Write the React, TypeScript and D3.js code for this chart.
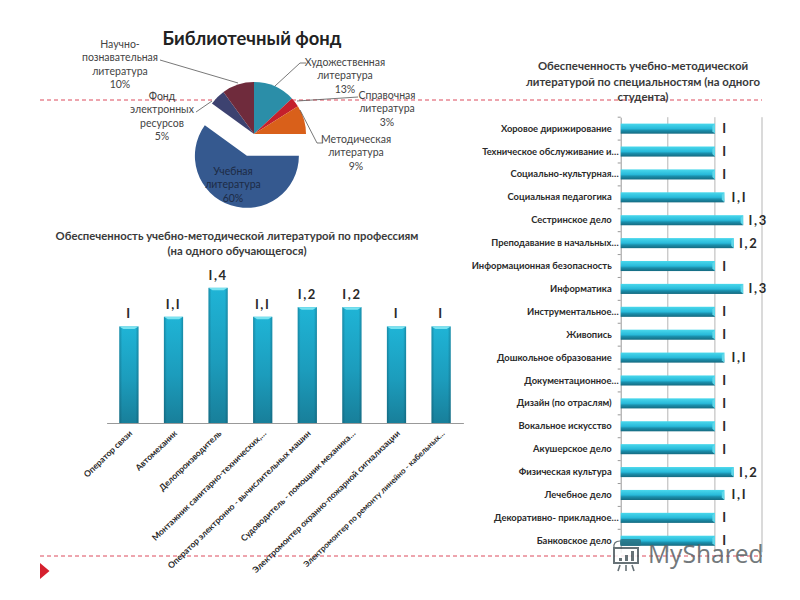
import React, { useEffect, useRef } from 'react';
import * as d3 from 'd3';

// pie
const fundNames = [
  ['Художественная', 'литература'],
  ['Справочная', 'литература'],
  ['Методическая', 'литература'],
  ['Учебная', 'литература'],
  ['Фонд', 'электронных', 'ресурсов'],
  ['Научно-', 'познавательная', 'литература'],
];
const fundShares = [13, 3, 9, 60, 5, 10];
const fundColors = ['#2b8ea8', '#c4202c', '#d9601a', '#35598f', '#3d4270', '#6f2b3c'];

// vertical bars
const professions = [
  'Оператор связи',
  'Автомеханик',
  'Делопроизводитель',
  'Монтажник санитарно-технических,…',
  'Оператор электронно - вычислительных машин',
  'Судоводитель - помощник механика…',
  'Электромонтер охранно-пожарной сигнализации',
  'Электромонтер по ремонту линейно - кабельных…',
];
const professionValues = [1, 1.1, 1.4, 1.1, 1.2, 1.2, 1, 1];

// horizontal bars
const specialties = [
  'Хоровое дирижирование',
  'Техническое обслуживание и…',
  'Социально-культурная…',
  'Социальная педагогика',
  'Сестринское дело',
  'Преподавание в начальных…',
  'Информационная безопасность',
  'Информатика',
  'Инструментальное…',
  'Живопись',
  'Дошкольное образование',
  'Документационное…',
  'Дизайн (по отраслям)',
  'Вокальное искусство',
  'Акушерское дело',
  'Физическая культура',
  'Лечебное дело',
  'Декоративно- прикладное…',
  'Банковское дело',
];
const specialtyValues = [1, 1, 1, 1.1, 1.3, 1.2, 1, 1.3, 1, 1, 1.1, 1, 1, 1, 1, 1.2, 1.1, 1, 1];
const specialtyTicks = [0, 0.5, 1, 1.5];

const FONT = 'Lato, sans-serif';

// the slide's font draws the digit one as a plain bar
const valueLabel = (v: number) => String(v).replace('.', ',').replace(/1/g, 'I');

export default function App() {
  const svgRef = useRef<SVGSVGElement>(null);

  useEffect(() => {
    if (!svgRef.current) return;
    const svg = d3.select(svgRef.current);
    svg.selectAll('*').remove();
    svg.attr('font-family', FONT);

    const defs = svg.append('defs');
    const gradient = (id: string, horizontal: boolean, stops: [number, string, number][]) => {
      const g = defs.append('linearGradient').attr('id', id)
        .attr('x1', 0).attr('y1', 0)
        .attr('x2', horizontal ? 1 : 0).attr('y2', horizontal ? 0 : 1);
      stops.forEach(([o, c, a]) => g.append('stop').attr('offset', o).attr('stop-color', c).attr('stop-opacity', a));
    };
    gradient('colBody', false, [[0, '#1fb4d6', 1], [0.55, '#1c9cbc', 1], [1, '#187f9a', 1]]);
    gradient('colEdge', true, [[0, '#0b3f50', 0.35], [0.15, '#0b3f50', 0], [0.85, '#0b3f50', 0], [1, '#0b3f50', 0.35]]);
    gradient('rowBody', false, [[0, '#4ad8ec', 1], [0.5, '#28bada', 1], [0.68, '#1a8fac', 1], [1, '#156a80', 1]]);

    // dashed guides and marker of the slide
    const guides = svg.append('g').attr('stroke', '#d8354a').attr('stroke-width', 0.9).attr('stroke-dasharray', '4 3');
    guides.append('line').attr('x1', 40).attr('x2', 762).attr('y1', 100).attr('y2', 100);
    guides.append('line').attr('x1', 40).attr('x2', 762).attr('y1', 556).attr('y2', 556);
    svg.append('path').attr('d', 'M40,563L49.5,571L40,579Z').attr('fill', '#d5202e');

    // ---- pie
    svg.append('text').attr('x', 252).attr('y', 45).attr('text-anchor', 'middle')
      .attr('font-size', 18.4).attr('font-weight', 700).attr('fill', '#222').text('Библиотечный фонд');

    const pieX = 254, pieY = 134, pieR = 52;
    const arcs = d3.pie<number>().sort(null)(fundShares);
    const arc = d3.arc<d3.PieArcDatum<number>>().innerRadius(0).outerRadius(pieR);
    const pie = svg.append('g').attr('transform', `translate(${pieX},${pieY})`);
    pie.selectAll('path').data(arcs).join('path')
      .attr('d', arc)
      .attr('fill', (_, i) => fundColors[i])
      .attr('transform', (d, i) => {
        if (i !== 3) return null;
        const mid = (d.startAngle + d.endAngle) / 2;
        return `translate(${Math.sin(mid) * 23},${-Math.cos(mid) * 23})`;
      });

    const leaders = ['M275,86L300,63L306,63', 'M297,101L358,97', 'M300,110L317,143L323,143', 'M196,112L212,101', 'M160,60L238,83'];
    svg.append('g').attr('fill', 'none').attr('stroke', '#555').attr('stroke-width', 0.8)
      .selectAll('path').data(leaders).join('path').attr('d', d => d);

    const labelPos = [[345, 62], [387, 95], [356, 139], [233, 171], [162, 96], [120, 44]];
    fundNames.forEach((lines, i) => {
      const t = svg.append('text').attr('text-anchor', 'middle').attr('font-size', 10.5)
        .attr('fill', i === 3 ? '#1d2b45' : '#444');
      [...lines, `${fundShares[i]}%`].forEach((s, k) => {
        t.append('tspan').attr('x', labelPos[i][0]).attr('y', labelPos[i][1] + 3.5 + k * 13.5).text(s);
      });
    });

    // ---- vertical bars
    const multiTitle = (x: number, ys: number[], lines: string[], size: number) => {
      lines.forEach((s, i) => {
        svg.append('text').attr('x', x).attr('y', ys[i]).attr('text-anchor', 'middle')
          .attr('font-size', size).attr('font-weight', 700).attr('fill', '#3a3a3a').text(s);
      });
    };
    multiTitle(237, [240, 255], ['Обеспеченность учебно-методической литературой по профессиям', '(на одного обучающегося)'], 11.3);

    const colX = d3.scaleBand<string>().domain(professions).range([106.6, 463.4]).paddingInner(0.57).paddingOuter(0.285);
    const colY = d3.scaleLinear().domain([0, 1.5]).range([423, 278.2]);

    const colAxis = svg.append('g').attr('transform', 'translate(0,423)')
      .call(d3.axisBottom(colX).tickSize(0).tickPadding(0));
    colAxis.select('.domain').attr('stroke', '#999').attr('stroke-width', 1);
    colAxis.selectAll<SVGTextElement, string>('text')
      .attr('font-family', FONT)
      .attr('font-size', d => (d === professions[7] ? 8 : 8.6))
      .attr('font-weight', 700).attr('fill', '#2a2a2a')
      .attr('text-anchor', 'end').attr('dy', 0)
      .attr('transform', 'translate(4,11) rotate(-44)');

    const cols = svg.append('g').selectAll('g').data(professionValues).join('g')
      .attr('transform', (_, i) => `translate(${colX(professions[i])},0)`);
    const cw = colX.bandwidth();
    cols.append('rect').attr('width', cw).attr('y', d => colY(d)).attr('height', d => colY(0) - colY(d)).attr('fill', 'url(#colBody)');
    cols.append('rect').attr('width', cw).attr('y', d => colY(d)).attr('height', d => colY(0) - colY(d)).attr('fill', 'url(#colEdge)');
    cols.append('path').attr('d', d => `M0,${colY(d)}H${cw}L${cw - 4},${colY(d) + 2.5}H4Z`).attr('fill', '#7be3f0');
    cols.append('text').attr('x', cw / 2).attr('y', d => colY(d) - 8).attr('text-anchor', 'middle')
      .attr('font-size', 13).attr('font-weight', 700).attr('letter-spacing', 1.6).attr('fill', '#2a2a2a')
      .text(d => valueLabel(d));

    // ---- horizontal bars
    multiTitle(643, [70, 85.5, 101], ['Обеспеченность учебно-методической', 'литературой по специальностям (на одного', 'студента)'], 11.4);

    const rowY = d3.scaleBand<string>().domain(specialties).range([117.2, 552.2]).paddingInner(0.56).paddingOuter(0.28);
    const rowX = d3.scaleLinear().domain([0, 1.5]).range([620.7, 762]);
    const rowBand = d3.scaleBand<string>().domain(specialties).range([117.2, 552.2]);

    svg.append('g').attr('stroke', '#b5b5b5').attr('stroke-width', 1)
      .selectAll('line').data(specialtyTicks.slice(1)).join('line')
      .attr('x1', d => rowX(d)).attr('x2', d => rowX(d)).attr('y1', 117.2).attr('y2', 552.2);

    const rowAxis = svg.append('g').attr('transform', 'translate(620.7,0)')
      .call(d3.axisLeft(rowBand).tickSize(0).tickPadding(3));
    rowAxis.select('.domain').attr('stroke', '#999');
    rowAxis.selectAll<SVGTextElement, string>('text')
      .attr('font-family', FONT).attr('font-size', 9.4).attr('font-weight', 700).attr('fill', '#2a2a2a')
      .attr('x', d => (d.endsWith('…') ? -2 : -9));
    rowAxis.append('g').attr('stroke', '#999').selectAll('line').data(specialties).join('line')
      .attr('x1', -3).attr('x2', 0)
      .attr('y1', d => rowBand(d)!).attr('y2', d => rowBand(d)!);

    const rows = svg.append('g').selectAll('g').data(specialtyValues).join('g')
      .attr('transform', (_, i) => `translate(0,${rowY(specialties[i])})`);
    const rh = rowY.bandwidth();
    rows.append('rect').attr('x', rowX(0)).attr('width', d => rowX(d) - rowX(0)).attr('height', rh).attr('fill', 'url(#rowBody)');
    rows.append('path').attr('d', d => `M${rowX(d)},0V${rh}L${rowX(d) - 2.5},${rh - 2.5}V2.5Z`).attr('fill', '#5fd8ea');
    rows.append('text').attr('x', d => rowX(d) + (d === 1 ? 10 : 15)).attr('y', rh / 2 + 4.5).attr('text-anchor', 'middle')
      .attr('font-size', 13).attr('font-weight', 700).attr('letter-spacing', 1.6).attr('fill', '#2a2a2a')
      .text(d => valueLabel(d));

    // ---- watermark
    const wm = svg.append('g').attr('opacity', 0.85);
    wm.append('rect').attr('x', 620).attr('y', 539).attr('width', 21).attr('height', 7).attr('rx', 2).attr('fill', '#2a7486');
    wm.append('rect').attr('x', 614).attr('y', 548).attr('width', 24).attr('height', 15).attr('fill', '#fff').attr('stroke', '#4d5a60').attr('stroke-width', 2);
    wm.append('path').attr('d', 'M620,565L618,571M626,565V571M632,565L634,571').attr('stroke', '#4d5a60').attr('stroke-width', 1.6).attr('fill', 'none');
    wm.append('path').attr('d', 'M619,558h3v3h-3ZM625,555h3v6h-3ZM631,551h3v10h-3Z').attr('fill', '#4d5a60');
    wm.append('path').attr('d', 'M620,541Q613,541 614,548').attr('stroke', '#4d5a60').attr('stroke-width', 1.2).attr('fill', 'none');
    wm.append('text').attr('x', 648).attr('y', 563).attr('font-family', '"Open Sans", sans-serif')
      .attr('font-size', 24.6).attr('fill', '#5a6266').text('MyShared');
  }, []);

  return (
    <svg ref={svgRef} width={800} height={600} style={{ position: 'absolute', left: 0, top: 0, background: '#fff' }} />
  );
}
